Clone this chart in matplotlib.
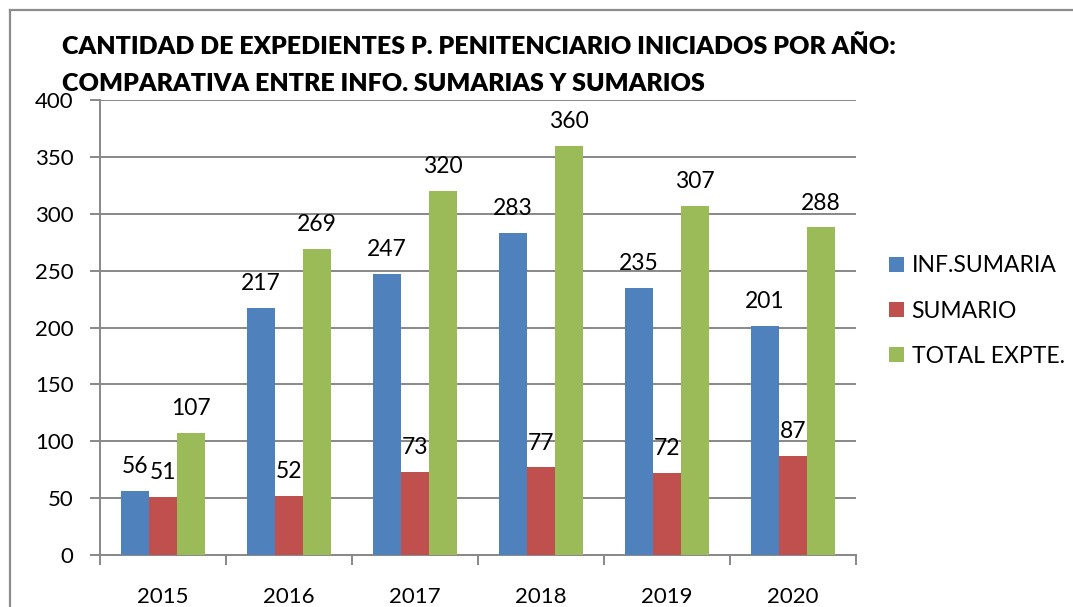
import matplotlib
matplotlib.use("Agg")
import matplotlib.pyplot as plt
import numpy as np
from matplotlib.lines import Line2D

plt.rcParams['font.family'] = ['Lato', 'DejaVu Sans']

years = ['2015', '2016', '2017', '2018', '2019', '2020']
inf_sumaria = [56, 217, 247, 283, 235, 201]
sumario = [51, 52, 73, 77, 72, 87]
total_expte = [107, 269, 320, 360, 307, 288]

series_names = ['INF.SUMARIA', 'SUMARIO', 'TOTAL EXPTE.']
colors = ['#4F81BD', '#C0504D', '#9BBB59']
grid_col = '#888888'

W, H = 1073, 607
fig = plt.figure(figsize=(W / 100, H / 100), dpi=100)

# chart frame (only top and left edges show in the crop)
fig.add_artist(Line2D([10 / W, 1.0], [1 - 10 / H, 1 - 10 / H], color='#8c8c8c', lw=1.6))
fig.add_artist(Line2D([10 / W, 10 / W], [0, 1 - 10 / H], color='#8c8c8c', lw=1.6))

ax = fig.add_axes([100 / W, (H - 555) / H, 756 / W, 455 / H])

x = np.arange(len(years))
w = 0.222
data = [inf_sumaria, sumario, total_expte]
for i, (vals, name, c) in enumerate(zip(data, series_names, colors)):
    bars = ax.bar(x + (i - 1) * w, vals, width=w, color=c, label=name, zorder=3)
    ax.bar_label(bars, padding=10, fontsize=16.5, color='black')

ax.set_xlim(-0.5, len(years) - 0.5)
ax.set_ylim(0, 400)
ax.set_yticks(np.arange(0, 401, 50))
ax.yaxis.grid(True, color=grid_col, lw=1.4, zorder=0)
ax.tick_params(axis='y', length=7, width=1.4, color=grid_col, pad=12, labelsize=16)

ax.set_xticks(np.arange(len(years) + 1) - 0.5)
ax.set_xticklabels([])
ax.set_xticks(x, minor=True)
ax.set_xticklabels(years, minor=True, fontsize=16)
ax.tick_params(axis='x', which='major', length=7, width=1.4, color=grid_col)
ax.tick_params(axis='x', which='minor', length=0, pad=23)

for s in ['top', 'right']:
    ax.spines[s].set_visible(False)
for s in ['left', 'bottom']:
    ax.spines[s].set_color(grid_col)
    ax.spines[s].set_linewidth(1.4)

fig.legend(loc='center left', bbox_to_anchor=(868 / W, 1 - 311 / H), frameon=False,
           fontsize=16.5, handlelength=0.65, handleheight=0.65, handletextpad=0.35,
           labelspacing=1.05)

fig.text(62 / W, 1 - 54 / H, 'CANTIDAD DE EXPEDIENTES P. PENITENCIARIO INICIADOS POR AÑO:',
         fontsize=18, fontweight='heavy', va='baseline')
fig.text(62 / W, 1 - 91 / H, 'COMPARATIVA ENTRE INFO. SUMARIAS Y SUMARIOS',
         fontsize=18, fontweight='heavy', va='baseline')

fig.savefig('out.png', dpi=100)
